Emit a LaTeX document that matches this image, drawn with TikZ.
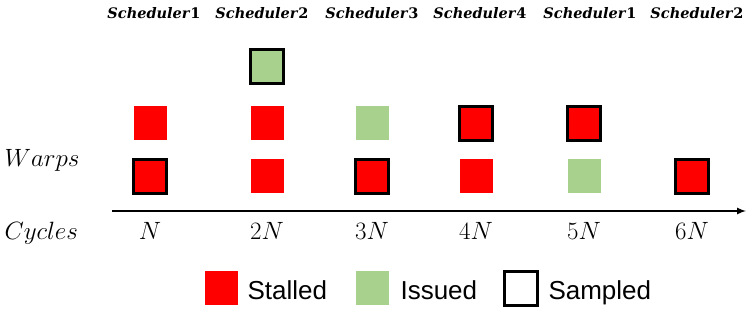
\documentclass[tikz,border=0pt]{standalone}
\usepackage{fontspec}
\usepackage{fix-cm}
\newfontfamily\legfont{Liberation Sans}
\newfontfamily\schedfont{DejaVu Serif}
\definecolor{stred}{HTML}{FF0000}
\definecolor{isgreen}{HTML}{A9D18E}
\begin{document}
\begin{tikzpicture}[x=1pt,y=-1pt,
  cell/.style={minimum width=33pt,minimum height=34pt,inner sep=0pt,draw=none},
  stalled/.style={cell,fill=stred},
  issued/.style={cell,fill=isgreen},
  sampled/.style={draw=black,line width=3pt},
  sched/.style={font=\schedfont\fontsize{14.5}{16}\selectfont\bfseries\itshape,anchor=base},
  axlab/.style={font=\fontsize{25}{27}\selectfont,anchor=base},
  leg/.style={font=\legfont\fontsize{26}{28}\selectfont,anchor=base west}]
\useasboundingbox (0,0) rectangle (748,311);
% scheduler labels
\node[sched] (s1) at (154,18) {Scheduler\textup{1}};
\node[sched] (s2) at (262,18) {Scheduler\textup{2}};
\node[sched] (s3) at (372,18) {Scheduler\textup{3}};
\node[sched] (s4) at (480,18) {Scheduler\textup{4}};
\node[sched] (s5) at (590,18) {Scheduler\textup{1}};
\node[sched] (s6) at (697,18) {Scheduler\textup{2}};
% top row
\node[issued,sampled] (t2) at (267,66) {};
% middle row
\node[stalled] (m1) at (150,123) {};
\node[stalled] (m2) at (267,123) {};
\node[issued] (m3) at (372,123) {};
\node[stalled,sampled] (m4) at (476,123) {};
\node[stalled,sampled] (m5) at (584,123) {};
% bottom row
\node[stalled,sampled] (b1) at (150,176) {};
\node[stalled] (b2) at (267,176) {};
\node[stalled,sampled] (b3) at (372,176) {};
\node[stalled] (b4) at (476,176) {};
\node[issued] (b5) at (584,176) {};
\node[stalled,sampled] (b6) at (692,176) {};
% axis
\coordinate (a0) at (112,211);
\coordinate (a1) at (746,211);
\draw[line width=2pt,-latex] (a0) -- (a1);
\node[axlab,anchor=base west] (warps) at (1,166) {$Warps$};
\node[axlab,anchor=base west] (cycles) at (1,239) {$Cycles$};
\node[axlab] (n1) at (150,239) {$N$};
\node[axlab] (n2) at (267,239) {$2N$};
\node[axlab] (n3) at (372,239) {$3N$};
\node[axlab] (n4) at (476,239) {$4N$};
\node[axlab] (n5) at (584,239) {$5N$};
\node[axlab] (n6) at (692,239) {$6N$};
% legend
\node[stalled] (l1) at (221,288) {};
\node[leg] (l1t) at (244,299) {Stalled};
\node[issued] (l2) at (372,288) {};
\node[leg] (l2t) at (397,299) {Issued};
\node[cell,sampled] (l3) at (521,288) {};
\node[leg] (l3t) at (545,299) {Sampled};
\end{tikzpicture}
\end{document}
